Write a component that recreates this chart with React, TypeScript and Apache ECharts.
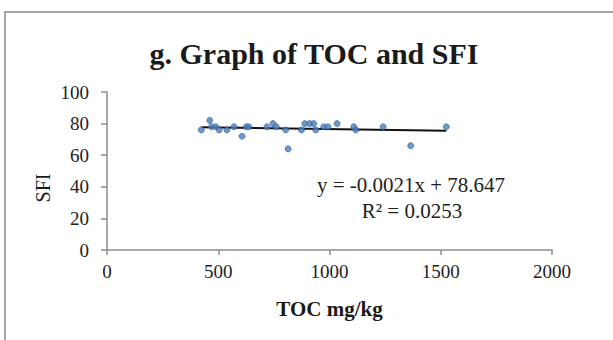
import React, { useEffect, useRef } from "react";
import * as echarts from "echarts";

const tocValues = [424, 462, 470, 489, 504, 539, 571, 607, 626, 637, 719, 746, 761, 803, 814, 874, 889, 911, 929, 938, 974, 993, 1034, 1109, 1118, 1241, 1365, 1525];
const sfiValues = [76, 82, 78, 78, 76, 76, 78, 72, 78, 78, 78, 80, 78, 76, 64, 76, 80, 80, 80, 76, 78, 78, 80, 78, 76, 78, 66, 78];
const slope = -0.0021;
const intercept = 78.647;
const xTicks = [0, 500, 1000, 1500, 2000];
const yTicks = [0, 20, 40, 60, 80, 100];
const titleText = "g. Graph of TOC and SFI";
const xName = "TOC mg/kg";
const yName = "SFI";
const eqText = "y = -0.0021x + 78.647";
const r2Text = "R² = 0.0253";

export default function App() {
  const ref = useRef<HTMLDivElement>(null);
  useEffect(() => {
    if (!ref.current) return;
    const chart = echarts.init(ref.current, null, { renderer: "svg" });
    const pts = tocValues.map((x, i) => [x, sfiValues[i]]);
    const xMin = Math.min(...tocValues);
    const xMax = Math.max(...tocValues);
    const trend = [
      [xMin, slope * xMin + intercept],
      [xMax, slope * xMax + intercept],
    ];
    const font = "'Liberation Serif', 'Times New Roman', serif";
    const axisColor = "#8c8c8c";
    chart.setOption({
      animation: false,
      backgroundColor: "#fff",
      title: {
        text: titleText,
        left: 309,
        textAlign: "center",
        top: 33,
        textStyle: { fontFamily: font, fontSize: 30, fontWeight: "bold", color: "#1a1a1a" },
      },
      grid: { left: 107, right: 61, top: 92, bottom: 90, containLabel: false },
      xAxis: {
        type: "value",
        min: xTicks[0],
        max: xTicks[xTicks.length - 1],
        interval: 500,
        name: xName,
        nameLocation: "middle",
        nameGap: 48,
        nameTextStyle: { fontFamily: font, fontSize: 21, fontWeight: "bold", color: "#1a1a1a" },
        axisLine: { show: true, lineStyle: { color: axisColor, width: 1.5 } },
        axisTick: { show: true, length: 5, lineStyle: { color: axisColor, width: 1.5 } },
        splitLine: { show: false },
        axisLabel: { fontFamily: font, fontSize: 19, color: "#222", margin: 12, formatter: (v: number) => String(v) },
      },
      yAxis: {
        type: "value",
        min: yTicks[0],
        max: yTicks[yTicks.length - 1],
        interval: 20,
        axisLine: { show: true, lineStyle: { color: axisColor, width: 1.5 } },
        axisTick: { show: true, length: 6, lineStyle: { color: axisColor, width: 1.5 } },
        splitLine: { show: false },
        axisLabel: { fontFamily: font, fontSize: 19, color: "#222", margin: 18, formatter: (v: number) => String(v) },
      },
      graphic: [
        {
          type: "rect",
          shape: { x: 5, y: 12, width: 640, height: 360 },
          style: { fill: "none", stroke: "#8a8a8a", lineWidth: 1.5 },
          silent: true,
        },
        {
          type: "text",
          x: 43,
          y: 188,
          rotation: Math.PI / 2,
          style: { text: yName, fontFamily: font, fontSize: 20, fill: "#1a1a1a", textAlign: "center", textVerticalAlign: "middle" },
        },
        {
          type: "text",
          x: 411,
          y: 185,
          style: { text: eqText, fontFamily: font, fontSize: 21, fill: "#222", textAlign: "center", textVerticalAlign: "middle" },
        },
        {
          type: "text",
          x: 412,
          y: 211,
          style: { text: r2Text, fontFamily: font, fontSize: 21, fill: "#222", textAlign: "center", textVerticalAlign: "middle" },
        },
      ],
      series: [
        {
          type: "scatter",
          data: pts,
          symbol: "circle",
          symbolSize: 6,
          itemStyle: { color: "#4a7ebb", borderColor: "#2f5f9a", borderWidth: 0.8 },
          z: 3,
        },
        {
          type: "line",
          data: trend,
          showSymbol: false,
          lineStyle: { color: "#111", width: 2 },
          z: 2,
        },
      ],
    });
    return () => chart.dispose();
  }, []);
  return <div ref={ref} style={{ position: "fixed", left: 0, top: 0, width: 613, height: 340 }} />;
}
